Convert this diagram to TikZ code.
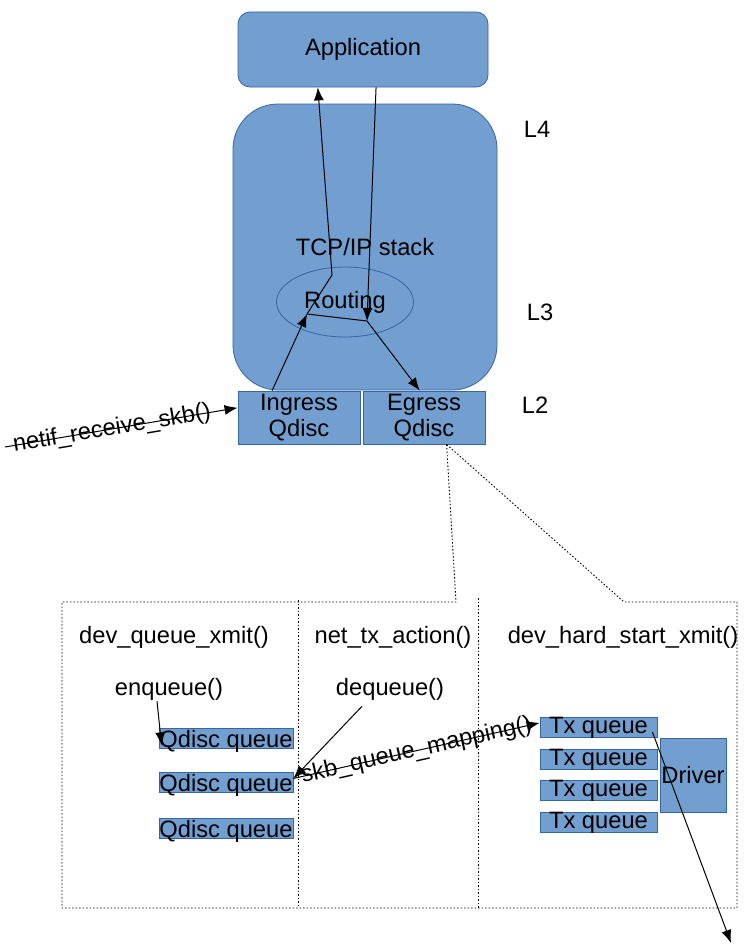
\documentclass[tikz,border=0pt]{standalone}
\usepackage{fontspec}
\setmainfont{Liberation Sans}
\usetikzlibrary{arrows.meta,shapes.geometric}
\definecolor{boxblue}{HTML}{729FCF}
\definecolor{boxline}{HTML}{3465A4}
\begin{document}
\begin{tikzpicture}[x=1pt,y=-1pt,inner sep=1pt,
    font=\fontsize{23.7}{26}\selectfont,
    box/.style={draw=boxline,fill=boxblue,line width=.8pt,inner sep=0pt},
    qbox/.style={box,minimum width=134pt,minimum height=20pt,text height=19pt,text depth=1pt},
    txbox/.style={box,minimum width=117pt,minimum height=20pt,text height=16pt,text depth=4pt},
    arr/.style={line width=1pt,-{Latex[length=13pt,width=10pt]}},
    dots/.style={line width=.9pt,dash pattern=on 1.5pt off 2pt}]
    \useasboundingbox (0,0) rectangle (745,950);
    \node [box,rounded corners=12pt,minimum width=250pt,minimum height=75pt] (app) at (363,49.5) {Application};
    \node [box,rounded corners=45pt,minimum width=264pt,minimum height=286pt] (tcp) at (365,247) {TCP/IP stack};
    \node [draw=boxline,ellipse,line width=.8pt,minimum width=137pt,minimum height=70pt,inner sep=0pt] (rt) at (345,302) {Routing};
    \node [box,minimum width=122pt,minimum height=53pt,align=center] (ing) at (299,417.5) {Ingress\\Qdisc};
    \node [box,minimum width=122pt,minimum height=53pt,align=center] (eg) at (424,417.5) {Egress\\Qdisc};
    \node (l4) at (537,129) {L4};
    \node (l3) at (540,312) {L3};
    \node (l2) at (535,405) {L2};
    \coordinate (rin) at (307,314);
    \coordinate (rknee) at (332,275);
    \coordinate (rout) at (367,321);
    \coordinate (src) at (5,447);
    \draw [arr] (ing.135) -- (rin);
    \draw [arr] (rin) -- (rknee) -- (app.220);
    \draw [arr] (app.-71) -- (rout);
    \draw [line width=1pt] (rin) -- (rout);
    \draw [arr] (rout) -- (eg.99);
    \draw [arr] (src) -- node [sloped,pos=.46] {netif\_receive\_skb()} (ing.171);
    \coordinate (zs) at (eg.-50);
    \draw [dots] (zs) -- (456,602) -- (62,602) -- (62,908) -- (737,908) -- (737,602) -- (624,602) -- cycle;
    \draw [dots] (298,600) -- (298,908);
    \draw [dots] (478,598) -- (478,908);
    \node (fq) at (174,637) {dev\_queue\_xmit()};
    \node (fn) at (393,637) {net\_tx\_action()};
    \node (fh) at (623,637) {dev\_hard\_start\_xmit()};
    \node (enq) at (169,689) {enqueue()};
    \node (deq) at (390,689) {dequeue()};
    \node [qbox] (q1) at (226,738) {Qdisc queue};
    \node [qbox] (q2) at (226,782) {Qdisc queue};
    \node [qbox] (q3) at (226,828) {Qdisc queue};
    \node [txbox] (tx1) at (598.5,727) {Tx queue};
    \node [txbox] (tx2) at (598.5,759.5) {Tx queue};
    \node [txbox] (tx3) at (598.5,790.5) {Tx queue};
    \node [txbox] (tx4) at (598.5,822) {Tx queue};
    \node [box,minimum width=66pt,minimum height=74pt] (drv) at (693,775) {Driver};
    \coordinate (sink) at (731,943);
    \draw [arr] ([xshift=-12pt]enq.south) -- ([shift={(3,-3)}]q1.south west);
    \draw [arr] ([shift={(-28,5)}]deq.south) -- (q2.3);
    \draw [arr] (q2.3) -- node [sloped] {skb\_queue\_mapping()} (tx1.176);
    \draw [arr] ([shift={(-5,5)}]tx1.east) -- (sink);
\end{tikzpicture}
\end{document}
